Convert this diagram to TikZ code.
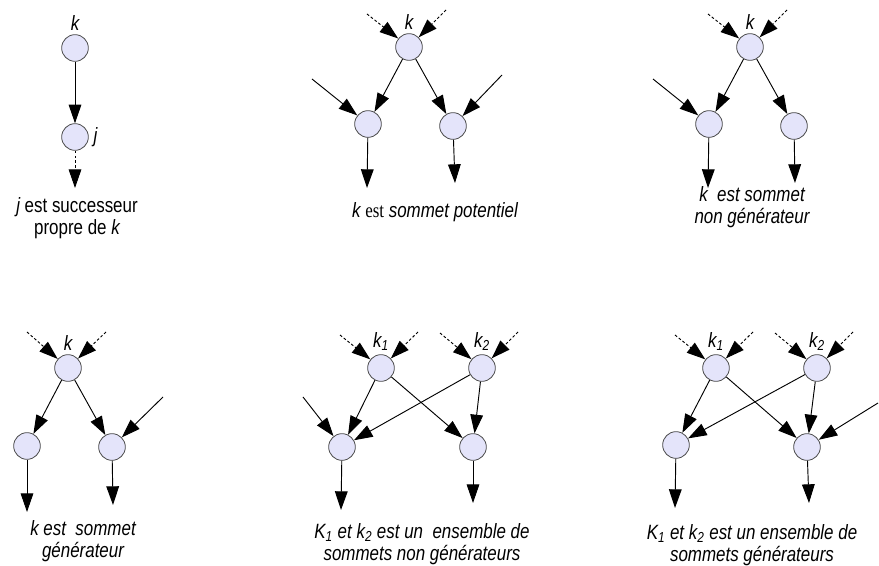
\documentclass[tikz,border=0pt]{standalone}
\usepackage{fontspec}
\setmainfont{Liberation Sans}[FakeStretch=0.82]
\newfontfamily\romanest{Liberation Serif}[FakeStretch=0.82]
\usetikzlibrary{arrows.meta}
\definecolor{lavender}{RGB}{228,228,250}
\tikzset{
graph/.style={
    x=0.75pt,
    y=-0.75pt,
    >={Triangle[length=14pt,width=9.5pt]},
    line width=0.7pt,
    font=\fontsize{15.5}{16.5}\selectfont
},
vertex/.style={
    circle,
    draw=black!70,
    fill=lavender,
    line width=0.6pt,
    minimum size=20pt,
    inner sep=0pt
},
succ/.style={
    ->
},
pred/.style={
    ->,
    dash pattern=on 2pt off 1.6pt
},
caption/.style={
    align=center,
    inner sep=0pt
}}

\begin{document}
\begin{tikzpicture}[graph]
\useasboundingbox (0,0) rectangle (879,566);

% j successeur propre de k
\node[vertex, label={[label distance=-1pt]above:{\itshape k}}]    (ak)    at (75,48)     {};
\node[vertex, label=right:{\itshape j}]    (aj)    at (75,137)    {};
\coordinate    (aout)    at (75,188);
\node[caption]    (acap)    at (77,218)    {{\itshape j} est successeur\\propre de {\itshape k}};

\path    (ak)    edge[succ]    (aj);
\path    (aj)    edge[pred]    (aout);

% sommet potentiel
\node[vertex, label={[label distance=-1pt]above:{\itshape k}}]    (bk)    at (409,47)    {};
\node[vertex]    (bl)    at (368,124)    {};
\node[vertex]    (br)    at (453,126)    {};
\coordinate    (bp1)    at (367,14);
\coordinate    (bp2)    at (446,10);
\coordinate    (bin1)   at (312,79);
\coordinate    (bin2)   at (502,75);
\coordinate    (bout1)  at (367,188);
\coordinate    (bout2)  at (455,183);
\node[caption]    (bcap)    at (435,212)    {{\itshape k} {\romanest est} {\itshape sommet potentiel}};

\path    (bp1)    edge[pred]    (bk);
\path    (bp2)    edge[pred]    (bk);
\path    (bk)     edge[succ]    (bl);
\path    (bk)     edge[succ]    (br);
\path    (bin1)   edge[succ]    (bl);
\path    (bin2)   edge[succ]    (br);
\path    (bl)     edge[succ]    (bout1);
\path    (br)     edge[succ]    (bout2);

% sommet non generateur
\node[vertex, label={[label distance=-1pt]above:{\itshape k}}]    (ck)    at (750,47)    {};
\node[vertex]    (cl)    at (709,124)    {};
\node[vertex]    (cr)    at (794,126)    {};
\coordinate    (cp1)    at (708,14);
\coordinate    (cp2)    at (787,10);
\coordinate    (cin)    at (653,79);
\coordinate    (cout1)  at (708,188);
\coordinate    (cout2)  at (795,183);
\node[caption]    (ccap)    at (752,207)    {\itshape k\ \ est sommet\\\itshape non générateur};

\path    (cp1)    edge[pred]    (ck);
\path    (cp2)    edge[pred]    (ck);
\path    (ck)     edge[succ]    (cl);
\path    (ck)     edge[succ]    (cr);
\path    (cin)    edge[succ]    (cl);
\path    (cl)     edge[succ]    (cout1);
\path    (cr)     edge[succ]    (cout2);

% sommet generateur
\node[vertex, label={[label distance=-1pt]above:{\itshape k}}]    (dk)    at (68,368)    {};
\node[vertex]    (dl)    at (27,446)     {};
\node[vertex]    (dr)    at (112,447)    {};
\coordinate    (dp1)    at (27,332);
\coordinate    (dp2)    at (106,332);
\coordinate    (din)    at (163,397);
\coordinate    (dout1)  at (27,512);
\coordinate    (dout2)  at (113,505);
\node[caption]    (dcap)    at (83,541)    {\itshape k est\ \ sommet\\\itshape générateur};

\path    (dp1)    edge[pred]    (dk);
\path    (dp2)    edge[pred]    (dk);
\path    (dk)     edge[succ]    (dl);
\path    (dk)     edge[succ]    (dr);
\path    (din)    edge[succ]    (dr);
\path    (dl)     edge[succ]    (dout1);
\path    (dr)     edge[succ]    (dout2);

% ensemble non generateur
\node[vertex, label={[label distance=-1pt]above:{\itshape k\textsubscript{1}}}]    (ek1)    at (381,368)    {};
\node[vertex, label={[label distance=-1pt]above:{\itshape k\textsubscript{2}}}]    (ek2)    at (482,368)    {};
\node[vertex]    (el)    at (342,447)    {};
\node[vertex]    (er)    at (473,447)    {};
\coordinate    (ep1)    at (340,335);
\coordinate    (ep2)    at (418,332);
\coordinate    (ep3)    at (440,333);
\coordinate    (ep4)    at (518,332);
\coordinate    (ein)    at (303,397);
\coordinate    (eout1)  at (341,510);
\coordinate    (eout2)  at (473,503);
\node[caption]    (ecap)    at (422,544)    {\itshape K\textsubscript{1} et k\textsubscript{2} est un\ \ ensemble de\\\itshape sommets non générateurs};

\path    (ep1)    edge[pred]    (ek1);
\path    (ep2)    edge[pred]    (ek1);
\path    (ep3)    edge[pred]    (ek2);
\path    (ep4)    edge[pred]    (ek2);
\path    (ek1)    edge[succ]    (el);
\path    (ek1)    edge[succ]    (er);
\path    (ek2)    edge[succ]    (el);
\path    (ek2)    edge[succ]    (er);
\path    (ein)    edge[succ]    (el);
\path    (el)     edge[succ]    (eout1);
\path    (er)     edge[succ]    (eout2);

% ensemble generateur
\node[vertex, label={[label distance=-1pt]above:{\itshape k\textsubscript{1}}}]    (fk1)    at (716,368)    {};
\node[vertex, label={[label distance=-1pt]above:{\itshape k\textsubscript{2}}}]    (fk2)    at (817,368)    {};
\node[vertex]    (fl)    at (676,445)    {};
\node[vertex]    (fr)    at (807,447)    {};
\coordinate    (fp1)    at (675,335);
\coordinate    (fp2)    at (753,332);
\coordinate    (fp3)    at (775,333);
\coordinate    (fp4)    at (853,332);
\coordinate    (fin)    at (878,403);
\coordinate    (fout1)  at (675,508);
\coordinate    (fout2)  at (809,503);
\node[caption]    (fcap)    at (752,545)    {\itshape K\textsubscript{1} et k\textsubscript{2} est un ensemble de\\\itshape sommets générateurs};

\path    (fp1)    edge[pred]    (fk1);
\path    (fp2)    edge[pred]    (fk1);
\path    (fp3)    edge[pred]    (fk2);
\path    (fp4)    edge[pred]    (fk2);
\path    (fk1)    edge[succ]    (fl);
\path    (fk1)    edge[succ]    (fr);
\path    (fk2)    edge[succ]    (fl);
\path    (fk2)    edge[succ]    (fr);
\path    (fin)    edge[succ]    (fr);
\path    (fl)     edge[succ]    (fout1);
\path    (fr)     edge[succ]    (fout2);
\end{tikzpicture}
\end{document}
